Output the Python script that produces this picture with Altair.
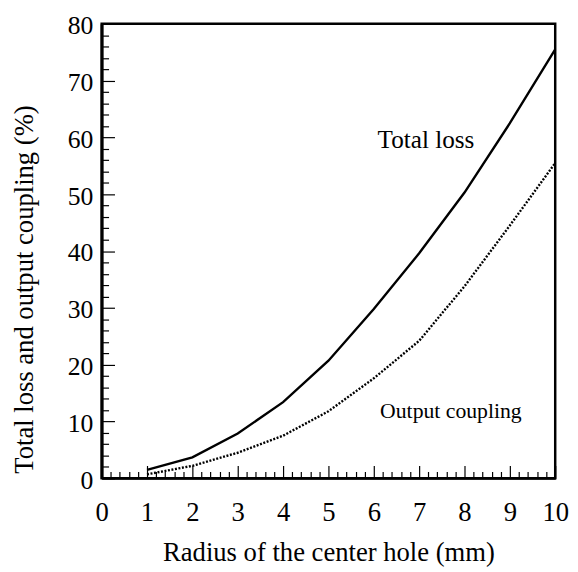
import altair as alt
import pandas as pd

# ---- data ----
radius = [1, 2, 3, 4, 5, 6, 7, 8, 9, 10]
total_loss = [1.5, 3.7, 7.9, 13.4, 20.7, 29.8, 39.6, 50.3, 62.5, 75.5]
output_coupling = [0.7, 2.2, 4.5, 7.5, 11.8, 17.6, 24.2, 33.8, 44.5, 55.5]

# axis positions: minor every 0.2 (x) / 2 (y); labelled majors every 1 / 10
x_minor = [i / 5 for i in range(0, 51)]
y_minor = list(range(0, 81, 2))

total_label = ["Total loss"]
total_label_x = [7.15]
total_label_y = [59.5]
out_label = ["Output coupling"]
out_label_x = [7.7]
out_label_y = [11.8]

W, H = 460, 461
FONT = "Liberation Serif"
xs = alt.Scale(domain=[0, 10], nice=False, zero=False)
ys = alt.Scale(domain=[0, 80], nice=False, zero=False)

# inward ticks drawn as short dashed grid segments (major longer than minor)
x_grid_dash = {"condition": {"test": "datum.value % 1 === 0", "value": [0, H - 13, 13, H]},
               "value": [0, H - 7, 7, H]}
y_grid_dash = {"condition": {"test": "datum.value % 10 === 0", "value": [13, 2000]},
               "value": [7, 2000]}

x_axis = alt.Axis(orient="bottom", values=x_minor, ticks=False,
                  grid=True, gridColor="black", gridOpacity=1, gridWidth=1.2, gridDash=x_grid_dash,
                  domain=True, domainColor="black", domainWidth=2,
                  labelExpr="datum.value % 1 === 0 ? '' + datum.value : ''",
                  labelOverlap=False, labelFlush=False, labelBound=False,
                  labelFont=FONT, labelFontSize=27, labelColor="black", labelPadding=22,
                  title="Radius of the center hole (mm)", titleFont=FONT, titleFontSize=27,
                  titleFontWeight="normal", titleColor="black",
                  titleX=W / 2, titleY=75, titleBaseline="middle", titleAlign="center")
y_axis = alt.Axis(orient="left", values=y_minor, ticks=False,
                  grid=True, gridColor="black", gridOpacity=1, gridWidth=1.2, gridDash=y_grid_dash,
                  domain=True, domainColor="black", domainWidth=3,
                  labelExpr="datum.value % 10 === 0 ? '' + datum.value : ''",
                  labelOverlap=False, labelFlush=False, labelBound=False,
                  labelFont=FONT, labelFontSize=26, labelColor="black", labelPadding=9,
                  labelBaseline="middle", labelOffset=2,
                  title="Total loss and output coupling (%)", titleFont=FONT, titleFontSize=27,
                  titleFontWeight="normal", titleColor="black", titleAngle=270,
                  titleX=-78, titleY=269, titleBaseline="middle", titleAlign="center")

XN = alt.X("r:Q", scale=xs, axis=None)
YN = alt.Y("v:Q", scale=ys, axis=None)

total_line = alt.Chart(pd.DataFrame({"r": radius, "v": total_loss})).mark_line(
    color="black", strokeWidth=2.4).encode(
    x=alt.X("r:Q", scale=xs, axis=x_axis),
    y=alt.Y("v:Q", scale=ys, axis=y_axis),
)

out_line = alt.Chart(pd.DataFrame({"r": radius, "v": output_coupling})).mark_line(
    color="black", strokeWidth=2.4, strokeDash=[2, 1.6]).encode(x=XN, y=YN)

lab_total = alt.Chart(pd.DataFrame({"t": total_label, "r": total_label_x, "v": total_label_y})).mark_text(
    font=FONT, fontSize=25.5, color="black", align="center", baseline="middle").encode(
    x=XN, y=YN, text="t:N")

lab_out = alt.Chart(pd.DataFrame({"t": out_label, "r": out_label_x, "v": out_label_y})).mark_text(
    font=FONT, fontSize=22, color="black", align="center", baseline="middle").encode(
    x=XN, y=YN, text="t:N")

chart = alt.layer(
    total_line, out_line, lab_total, lab_out,
).resolve_axis(
    x="independent", y="independent"
).properties(
    width=W, height=H,
    autosize=alt.AutoSizeParams(type="none"),
    padding={"left": 95, "top": 12, "right": 15, "bottom": 91},
).configure(background="white").configure_view(stroke="black", strokeWidth=2.5)

chart.save("out.html", embed_options={"renderer": "svg", "actions": False})
